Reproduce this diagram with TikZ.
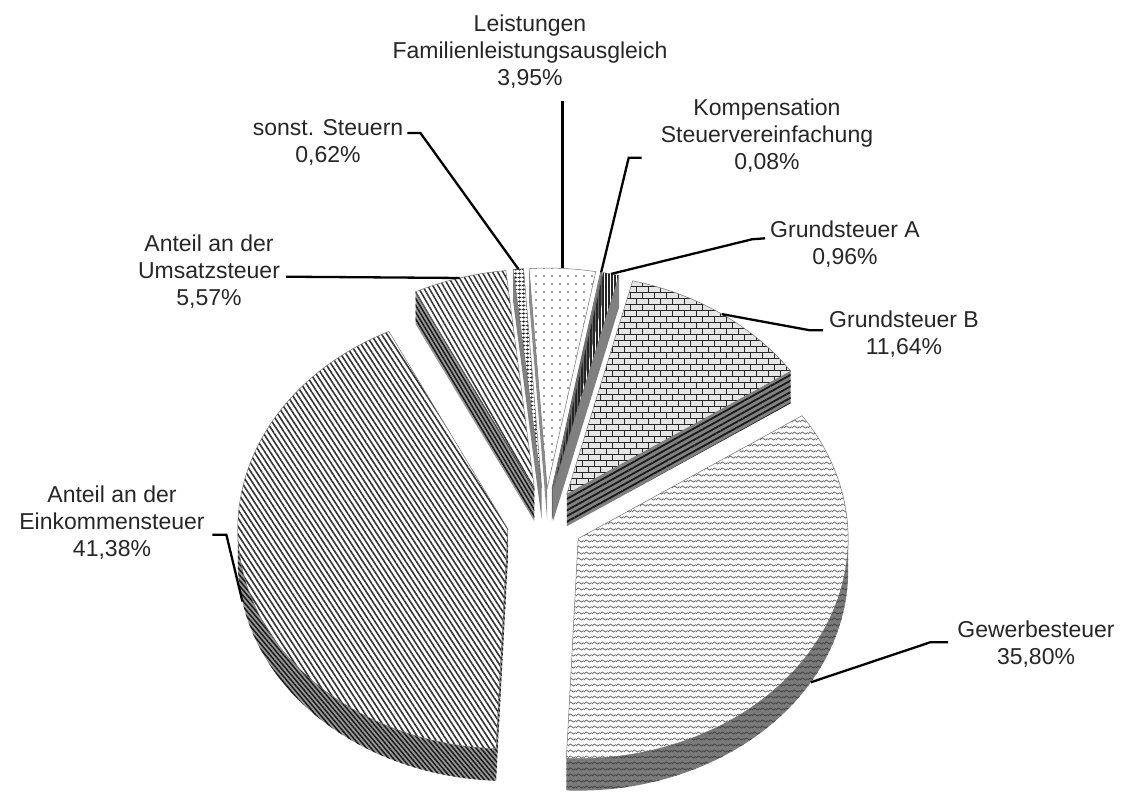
\documentclass[tikz,border=0pt]{standalone}
\usepackage{fontspec}
\setmainfont{Liberation Sans}
\usetikzlibrary{patterns,patterns.meta,calc}

\tikzdeclarepattern{
  name=waves,
  type=uncolored,
  bounding box={(-1pt,-1pt) and (9pt,7pt)},
  tile size={(8pt,6pt)},
  code={
    \draw[line width=0.8pt] (0pt,2pt) .. controls (1.5pt,4.5pt) and (3pt,4.5pt) .. (4pt,3pt)
      .. controls (5pt,1.5pt) and (6.5pt,1.5pt) .. (7.5pt,3.5pt);
  }
}
\tikzdeclarepattern{
  name=brickwall,
  type=uncolored,
  bounding box={(-0.5pt,-0.5pt) and (12.5pt,12.5pt)},
  tile size={(12pt,12pt)},
  code={
    \draw[line width=0.9pt] (0pt,0pt) -- (12pt,0pt) (0pt,6pt) -- (12pt,6pt)
      (0pt,0pt) -- (0pt,6pt) (6pt,6pt) -- (6pt,12pt);
  }
}

\tikzset{
  lbl/.style={align=center, inner sep=0pt, text=black!85,
    font=\fontsize{23}{27}\selectfont},
  leader/.style={draw=black, line width=2.3pt},
  topedge/.style={draw=black!55, line width=0.5pt},
  einTop/.style={topedge, pattern={Lines[angle=-57,distance=4.5pt,line width=1.6pt]}, pattern color=black!80},
  einSide/.style={preaction={fill=black!40}, pattern={Lines[angle=-50,distance=3.5pt,line width=1.5pt]}, pattern color=black!90},
  umsTop/.style={topedge, pattern={Lines[angle=-60,distance=4.5pt,line width=1.5pt]}, pattern color=black!80},
  umsSide/.style={preaction={fill=black!40}, pattern={Lines[angle=-59,distance=3.5pt,line width=1.5pt]}, pattern color=black!90},
  sonstTop/.style={topedge, pattern={Hatch[angle=0,distance=4pt,line width=0.9pt]}, pattern color=black!80},
  sonstSide/.style={fill=black!50},
  leiTop/.style={topedge, pattern={Dots[distance=8pt,radius=0.8pt]}, pattern color=black!75},
  leiSide/.style={fill=black!45},
  kompTop/.style={fill=black!40, draw=black!60, line width=0.5pt},
  kompSide/.style={fill=black!60},
  graTop/.style={topedge, pattern={Lines[angle=90,distance=3pt,line width=1.1pt]}, pattern color=black!85},
  graSide/.style={fill=black!50},
  grbTop/.style={topedge, preaction={fill=black!10}, pattern=brickwall, pattern color=black!85},
  grbSide/.style={preaction={fill=black!50}, pattern={Lines[angle=29,distance=5pt,line width=1.8pt]}, pattern color=black!90},
  gewTop/.style={topedge, pattern=waves, pattern color=black!60},
  gewSide/.style={preaction={fill=black!52}, pattern=waves, pattern color=black!75}
}

% one slice of the pie: apex, start angle, end angle, style
\newcommand{\topface}[4]{%
  \path[#4] (#1) -- ($(#1)+(#2:270 and 220)$)
    arc[start angle=#2, end angle=#3, x radius=270, y radius=220] -- cycle;}
\newcommand{\radialwall}[3]{%
  \path[#3] (#1) -- ($(#1)+(#2:270 and 220)$) -- ++(0,-32) -- ($(#1)+(0,-32)$) -- cycle;}
\newcommand{\outerwall}[4]{%
  \path[#4] ($(#1)+(#2:270 and 220)$)
    arc[start angle=#2, end angle=#3, x radius=270, y radius=220] -- ++(0,-32)
    arc[start angle=#3, end angle=#2, x radius=270, y radius=220] -- cycle;}

\begin{document}
\begin{tikzpicture}[x=1pt,y=1pt]
  \useasboundingbox (0,0) rectangle (1124,796);
  \coordinate (C) at (545,274);

  % apex of every slice, pushed out along its middle
  \coordinate (lei) at ($(C)+(86.74:38 and 34)$);
  \coordinate (sonst) at ($(C)+(94.97:38 and 34)$);
  \coordinate (komp) at ($(C)+(79.49:38 and 34)$);
  \coordinate (gra) at ($(C)+(77.61:38 and 34)$);
  \coordinate (ums) at ($(C)+(106.11:38 and 34)$);
  \coordinate (grb) at ($(C)+(54.93:38 and 34)$);
  \coordinate (ein) at ($(C)+(191.8:38 and 34)$);
  \coordinate (gew) at ($(C)+(330.7:38 and 34)$);

  % back slices first
  \radialwall{lei}{93.85}{leiSide}
  \topface{lei}{79.63}{93.85}{leiTop}
  \radialwall{sonst}{96.08}{sonstSide}
  \topface{sonst}{93.85}{96.08}{sonstTop}
  \radialwall{komp}{79.34}{kompSide}
  \topface{komp}{79.34}{79.63}{kompTop}
  \radialwall{gra}{75.88}{graSide}
  \topface{gra}{75.88}{79.34}{graTop}
  \radialwall{ums}{116.13}{umsSide}
  \topface{ums}{96.08}{116.13}{umsTop}
  \radialwall{grb}{33.98}{grbSide}
  \topface{grb}{33.98}{75.88}{grbTop}
  % front slices
  \outerwall{ein}{180}{267.5}{einSide}
  \radialwall{ein}{267.5}{einSide}
  \topface{ein}{116.13}{267.5}{einTop}
  \outerwall{gew}{267.5}{360}{gewSide}
  \topface{gew}{267.5}{393.98}{gewTop}

  % where the leaders end
  \coordinate (leiP) at ($(lei)+(86.74:270 and 220)$);
  \coordinate (sonstP) at ($(sonst)+(94.97:270 and 220)$);
  \coordinate (kompP) at ($(komp)+(79.49:270 and 220)$);
  \coordinate (graP) at ($(gra)+(77.61:270 and 220)$);
  \coordinate (umsP) at ($(ums)+(106.11:270 and 220)$);
  \coordinate (grbP) at ($(grb)+(54.93:270 and 220)$);
  \coordinate (einP) at ($(ein)+(190.6:270 and 220)+(0,-32)$);
  \coordinate (gewP) at ($(gew)+(329.5:270 and 220)+(0,-32)$);

  % labels
  \node[lbl] (leiL) at (530,744.4) {Leistungen\\Familienleistungsausgleich\\3,95\%};
  \node[lbl] (sonstL) at (328,653.7) {sonst. Steuern\\0,62\%};
  \node[lbl] (kompL) at (767,660.2) {Kompensation\\Steuervereinfachung\\0,08\%};
  \node[lbl] (graL) at (845,551.7) {Grundsteuer A\\0,96\%};
  \node[lbl] (umsL) at (209,524.2) {Anteil an der\\Umsatzsteuer\\5,57\%};
  \node[lbl] (grbL) at (904,461.7) {Grundsteuer B\\11,64\%};
  \node[lbl] (gewL) at (1036,151.7) {Gewerbesteuer\\35,80\%};
  \node[lbl] (einL) at (112,273.2) {Anteil an der\\Einkommensteuer\\41,38\%};

  \draw[leader] ($(leiL.south -| leiP)+(0,-12)$) -- (leiP);
  \draw[leader] ($(sonstL.east)+(4,9.3)$) -- ++(13,0) -- (sonstP);
  \draw[leader] ($(kompL.west)+(-19,-22)$) -- ++(-13,0) -- (kompP);
  \draw[leader] ($(graL.west)+(-5,6)$) -- ++(-13,-1) -- (graP);
  \draw[leader] ($(umsL.east)+(6,-5)$) -- ++(12,0) -- (umsP);
  \draw[leader] ($(grbL.west)+(-6,4)$) -- ++(-13,0) -- (grbP);
  \draw[leader] ($(gewL.west)+(-9,2)$) -- ++(-18,0) -- (gewP);
  \draw[leader] ($(einL.east)+(7.5,-12)$) -- ++(14,0) -- (einP);
\end{tikzpicture}
\end{document}
